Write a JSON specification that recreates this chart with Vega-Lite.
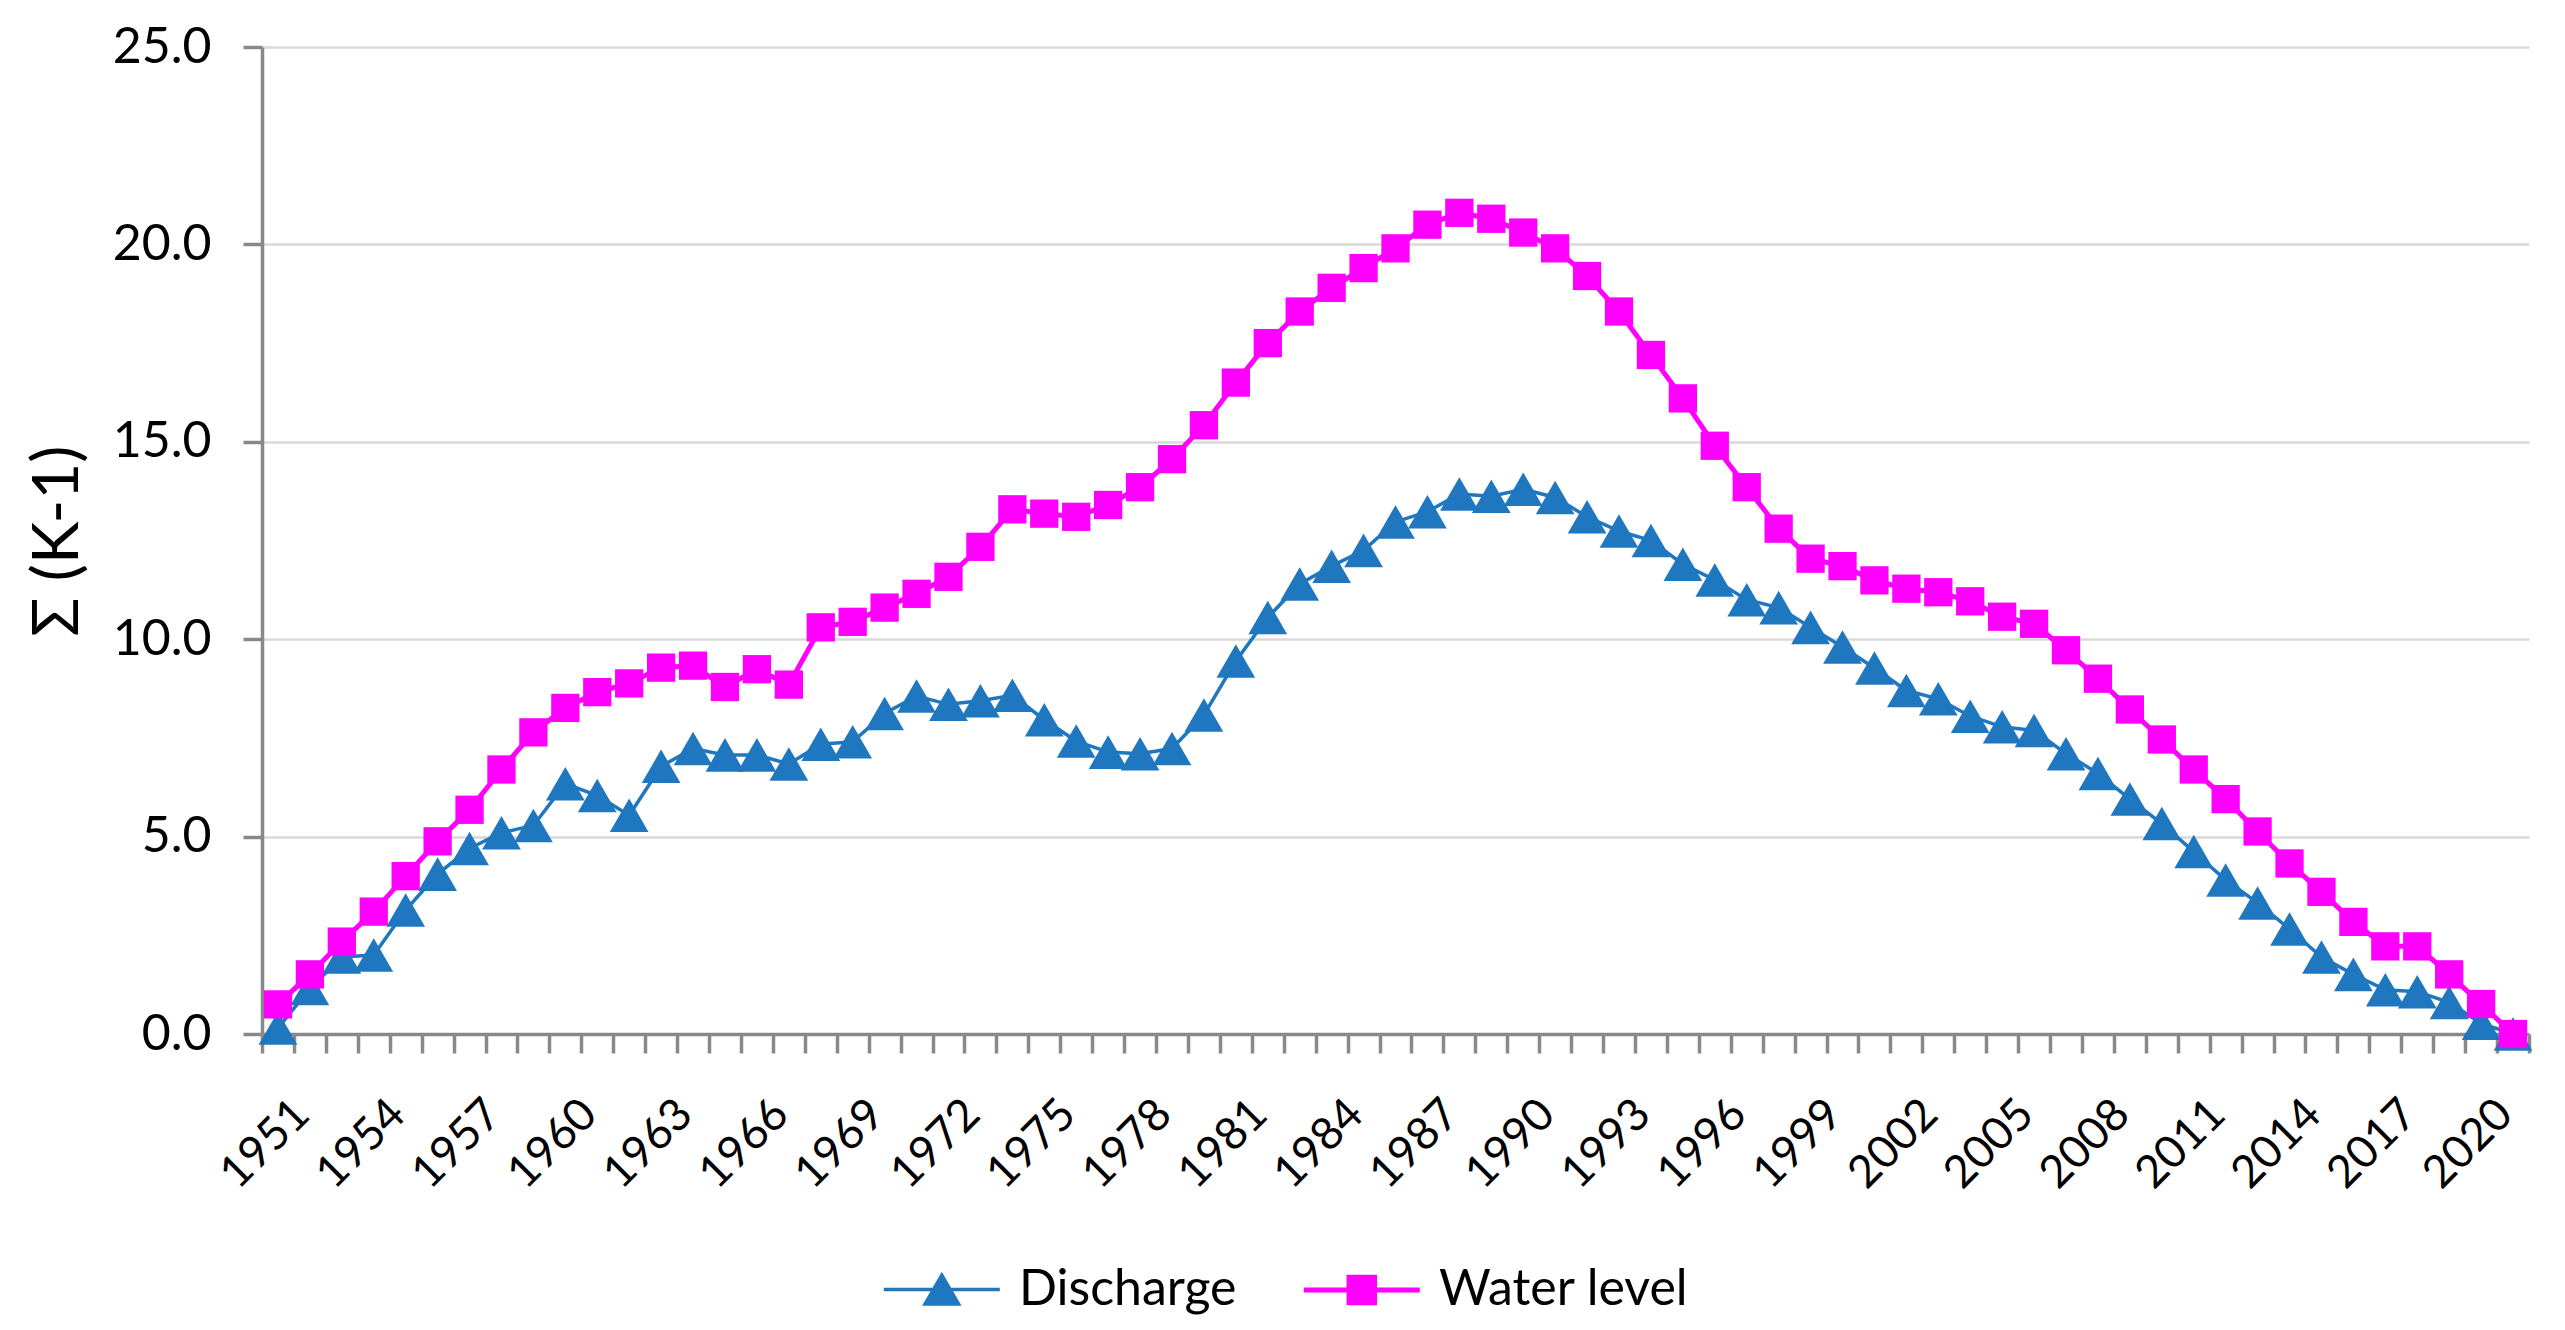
{
  "$schema": "https://vega.github.io/schema/vega-lite/v6.json",
  "width": 2267,
  "height": 987,
  "autosize": {"type": "none"},
  "padding": {"left": 262, "top": 47, "right": 36, "bottom": 296},
  "background": "white",
  "config": {"view": {"stroke": null}, "font": "Lato, 'Noto Sans', sans-serif"},
  "data": {"values": [
    {"year": 1951, "Discharge": 0.15, "Water level": 0.75},
    {"year": 1952, "Discharge": 1.15, "Water level": 1.51},
    {"year": 1953, "Discharge": 1.95, "Water level": 2.34},
    {"year": 1954, "Discharge": 2.0, "Water level": 3.1},
    {"year": 1955, "Discharge": 3.14, "Water level": 4.0},
    {"year": 1956, "Discharge": 4.05, "Water level": 4.88},
    {"year": 1957, "Discharge": 4.7, "Water level": 5.68},
    {"year": 1958, "Discharge": 5.1, "Water level": 6.7},
    {"year": 1959, "Discharge": 5.28, "Water level": 7.64},
    {"year": 1960, "Discharge": 6.34, "Water level": 8.26},
    {"year": 1961, "Discharge": 6.04, "Water level": 8.66},
    {"year": 1962, "Discharge": 5.54, "Water level": 8.88},
    {"year": 1963, "Discharge": 6.78, "Water level": 9.28},
    {"year": 1964, "Discharge": 7.23, "Water level": 9.33},
    {"year": 1965, "Discharge": 7.07, "Water level": 8.79},
    {"year": 1966, "Discharge": 7.07, "Water level": 9.24},
    {"year": 1967, "Discharge": 6.84, "Water level": 8.85},
    {"year": 1968, "Discharge": 7.34, "Water level": 10.3},
    {"year": 1969, "Discharge": 7.4, "Water level": 10.44},
    {"year": 1970, "Discharge": 8.12, "Water level": 10.8},
    {"year": 1971, "Discharge": 8.56, "Water level": 11.15},
    {"year": 1972, "Discharge": 8.35, "Water level": 11.58},
    {"year": 1973, "Discharge": 8.44, "Water level": 12.34},
    {"year": 1974, "Discharge": 8.58, "Water level": 13.29},
    {"year": 1975, "Discharge": 7.96, "Water level": 13.18},
    {"year": 1976, "Discharge": 7.42, "Water level": 13.1},
    {"year": 1977, "Discharge": 7.14, "Water level": 13.4},
    {"year": 1978, "Discharge": 7.1, "Water level": 13.85},
    {"year": 1979, "Discharge": 7.23, "Water level": 14.56},
    {"year": 1980, "Discharge": 8.08, "Water level": 15.42},
    {"year": 1981, "Discharge": 9.45, "Water level": 16.5},
    {"year": 1982, "Discharge": 10.55, "Water level": 17.5},
    {"year": 1983, "Discharge": 11.4, "Water level": 18.3},
    {"year": 1984, "Discharge": 11.85, "Water level": 18.9},
    {"year": 1985, "Discharge": 12.25, "Water level": 19.4},
    {"year": 1986, "Discharge": 12.97, "Water level": 19.9},
    {"year": 1987, "Discharge": 13.23, "Water level": 20.5},
    {"year": 1988, "Discharge": 13.68, "Water level": 20.8},
    {"year": 1989, "Discharge": 13.62, "Water level": 20.65},
    {"year": 1990, "Discharge": 13.8, "Water level": 20.3},
    {"year": 1991, "Discharge": 13.59, "Water level": 19.9},
    {"year": 1992, "Discharge": 13.1, "Water level": 19.2},
    {"year": 1993, "Discharge": 12.74, "Water level": 18.3},
    {"year": 1994, "Discharge": 12.5, "Water level": 17.2},
    {"year": 1995, "Discharge": 11.9, "Water level": 16.1},
    {"year": 1996, "Discharge": 11.5, "Water level": 14.9},
    {"year": 1997, "Discharge": 11.0, "Water level": 13.85},
    {"year": 1998, "Discharge": 10.8, "Water level": 12.8},
    {"year": 1999, "Discharge": 10.3, "Water level": 12.04},
    {"year": 2000, "Discharge": 9.8, "Water level": 11.85},
    {"year": 2001, "Discharge": 9.27, "Water level": 11.49},
    {"year": 2002, "Discharge": 8.7, "Water level": 11.28},
    {"year": 2003, "Discharge": 8.49, "Water level": 11.19},
    {"year": 2004, "Discharge": 8.05, "Water level": 10.96},
    {"year": 2005, "Discharge": 7.78, "Water level": 10.57},
    {"year": 2006, "Discharge": 7.69, "Water level": 10.39},
    {"year": 2007, "Discharge": 7.1, "Water level": 9.72},
    {"year": 2008, "Discharge": 6.6, "Water level": 9.0},
    {"year": 2009, "Discharge": 5.95, "Water level": 8.22},
    {"year": 2010, "Discharge": 5.33, "Water level": 7.46},
    {"year": 2011, "Discharge": 4.62, "Water level": 6.7},
    {"year": 2012, "Discharge": 3.9, "Water level": 5.95},
    {"year": 2013, "Discharge": 3.32, "Water level": 5.13},
    {"year": 2014, "Discharge": 2.66, "Water level": 4.32},
    {"year": 2015, "Discharge": 1.95, "Water level": 3.6},
    {"year": 2016, "Discharge": 1.51, "Water level": 2.84},
    {"year": 2017, "Discharge": 1.12, "Water level": 2.22},
    {"year": 2018, "Discharge": 1.07, "Water level": 2.22},
    {"year": 2019, "Discharge": 0.8, "Water level": 1.51},
    {"year": 2020, "Discharge": 0.27, "Water level": 0.76},
    {"year": 2021, "Discharge": 0.0, "Water level": 0.0}
  ]},
  "transform": [{"fold": ["Discharge", "Water level"], "as": ["series", "value"]}],
  "encoding": {
    "x": {
      "field": "year", "type": "ordinal",
      "scale": {"type": "band", "paddingInner": 0, "paddingOuter": 0},
      "axis": {
        "title": null, "tickBand": "extent", "labelAngle": -45,
        "labelAlign": "right", "labelBaseline": "top",
        "labelExpr": "(datum.value - 1951) % 3 == 0 ? datum.label : ''",
        "labelFontSize": 45, "labelColor": "black", "labelPadding": 38, "labelOffset": 8,
        "domainColor": "#898989", "domainWidth": 3.5,
        "tickColor": "#898989", "tickWidth": 3.5, "tickSize": 19,
        "grid": false, "labelOverlap": false
      }
    },
    "y": {
      "field": "value", "type": "quantitative",
      "scale": {"domain": [0, 25], "nice": false},
      "axis": {
        "title": "Σ (K-1)", "values": [0, 5, 10, 15, 20, 25], "format": ".1f",
        "labelFontSize": 50, "labelColor": "black", "labelPadding": 32,
        "domainColor": "#898989", "domainWidth": 3.5,
        "tickColor": "#898989", "tickWidth": 3.5, "tickSize": 19,
        "grid": true, "gridColor": "#d9d9d9", "gridWidth": 2.5,
        "titleFontSize": 64, "titleFontWeight": "normal", "titleColor": "black", "titlePadding": 22
      }
    }
  },
  "layer": [
    {
      "mark": {"type": "line"},
      "encoding": {
        "color": {
          "field": "series", "type": "nominal",
          "scale": {"domain": ["Discharge", "Water level"], "range": ["#1f77c0", "#ff00ff"]},
          "legend": {
            "title": null, "orient": "none", "legendX": 619, "legendY": 1217,
            "direction": "horizontal", "columns": 2, "symbolSize": 2153,
            "labelFontSize": 50, "labelColor": "black", "labelOffset": 86, "labelLimit": 0,
            "columnPadding": 56, "padding": 0, "symbolStrokeWidth": 4, "symbolOpacity": 1
          }
        },
        "strokeWidth": {"field": "series", "type": "ordinal", "scale": {"domain": ["Discharge", "Water level"], "range": [3.5, 5]}, "legend": null}
      }
    },
    {
      "transform": [{"filter": "datum.series === 'Discharge'"}],
      "mark": {"type": "point", "filled": true, "opacity": 1, "shape": "triangle-up", "size": 1500, "color": "#1f77c0"}
    },
    {
      "transform": [{"filter": "datum.series === 'Water level'"}],
      "mark": {"type": "point", "filled": true, "opacity": 1, "shape": "square", "size": 800, "color": "#ff00ff"}
    },
    {
      "mark": {"type": "point", "filled": true, "opacity": 0, "size": 10},
      "encoding": {
        "color": {"field": "series", "type": "nominal"},
        "shape": {
          "field": "series", "type": "nominal",
          "scale": {"domain": ["Discharge", "Water level"], "range": ["M-1,0H4M1.5,-0.62L2.22,0.62L0.78,0.62Z", "M-1,0H4M0.95,-0.55H2.05V0.55H0.95Z"]},
          "legend": null
        }
      }
    }
  ]
}
